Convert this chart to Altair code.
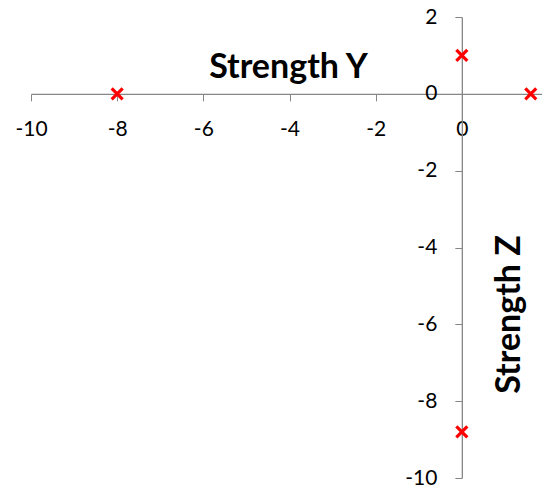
import altair as alt
import pandas as pd

xs = [-8, 0, 1.6, 0]
ys = [0, 1, 0, -8.8]
ticks = [-10, -8, -6, -4, -2, 0, 2]

df = pd.DataFrame({"x": xs, "y": ys})

W, H = 517, 461
FONT = "Lato"
GREY = "#868686"

x_off = -(H * 10 / 12)
y_off = -(W * 10 / 12)

chart = alt.Chart(df).mark_point(
    shape="M-1,-1L1,1M-1,1L1,-1", filled=False, stroke="#ff0000", strokeWidth=3.2, size=120, opacity=1
).encode(
    x=alt.X("x:Q", scale=alt.Scale(domain=[-10, 2], nice=False, zero=False),
            axis=alt.Axis(values=ticks, orient="bottom", offset=x_off, grid=False,
                          domainColor=GREY, tickColor=GREY, tickSize=7, domainWidth=1.3,
                          labelFont=FONT, labelFontSize=21, labelColor="black",
                          labelExpr="'' + datum.value",
                          labelBaseline="middle", labelPadding=29, labelFlush=False,
                          labelOverlap=False,
                          title="Strength Y", titleFont=FONT, titleFontSize=34,
                          titleFontWeight="bold", titleColor="black",
                          titleX=257, titleY=-16, titleAlign="center",
                          titleBaseline="alphabetic", titleAnchor="middle")),
    y=alt.Y("y:Q", scale=alt.Scale(domain=[-10, 2], nice=False, zero=False),
            axis=alt.Axis(values=ticks, orient="left", offset=y_off, grid=False,
                          domainColor=GREY, tickColor=GREY, tickSize=7, domainWidth=1.3,
                          labelFont=FONT, labelFontSize=21, labelColor="black",
                          labelExpr="'' + datum.value",
                          labelPadding=18, labelFlush=False, labelOverlap=False,
                          title="Strength Z", titleFont=FONT, titleFontSize=34,
                          titleFontWeight="bold", titleColor="black",
                          titleX=58, titleY=297, titleAngle=270, titleAlign="center",
                          titleBaseline="alphabetic")),
).properties(
    width=W, height=H,
    background="white",
    autosize=alt.AutoSizeParams(type="none"),
    padding={"left": 23, "top": 9, "right": -6, "bottom": 12},
).configure_view(strokeWidth=0, stroke="transparent")

chart.save("out.html", embed_options={"renderer": "svg", "actions": False})
